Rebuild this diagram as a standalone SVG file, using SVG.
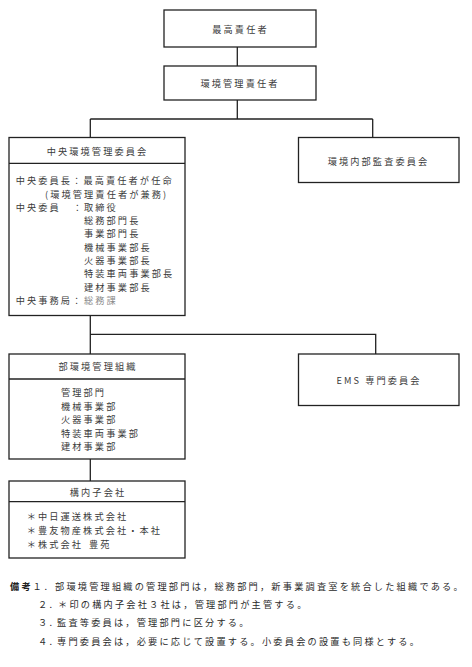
<svg xmlns="http://www.w3.org/2000/svg" width="472" height="667" viewBox="0 0 472 667">
<style>
.box{fill:#fff;stroke:#222;stroke-width:1.3}
.div{stroke:#222;stroke-width:1.3;fill:none}
.conn{stroke:#222;stroke-width:1.3;fill:none}
.t{font-family:"Noto Sans CJK JP","Noto Sans CJK SC",sans-serif;font-size:9.2px;letter-spacing:2.1px;fill:#3a3a3a;dominant-baseline:central}
.n{fill:#2a2a2a;letter-spacing:2.2px}
.c{text-anchor:middle}
.g{fill:#8a8a8a}
.b{font-weight:bold;fill:#222}
</style>
<rect width="472" height="667" fill="#fff"/>
<g id="connectors">
<path class="conn" d="M237.3 47V66M237.3 100V119M90.3 119H372.7M90.3 119V137.5M372.7 119V137.5M90.3 315.5V354M90.3 334.3H375.7V354M90.3 459V481"/>
</g>
<g id="n1">
<rect class="box" x="164" y="10" width="152" height="37"/>
<text class="t c" x="240.5" y="29.3">最高責任者</text>
</g>
<g id="n2">
<rect class="box" x="164" y="66" width="152" height="34"/>
<text class="t c" x="240" y="82.7">環境管理責任者</text>
</g>
<g id="n3">
<rect class="box" x="9" y="137.5" width="176" height="178"/>
<path class="div" d="M9 163.3H185"/>
<text class="t c" x="97.5" y="150.7">中央環境管理委員会</text>
<text class="t" x="15.7" y="180.3">中央委員長：最高責任者が任命</text>
<text class="t" x="45" y="193.5">(環境管理責任者が兼務)</text>
<text class="t" y="206.7"><tspan x="15.7">中央委員</tspan><tspan x="72.7">：</tspan><tspan x="84">取締役</tspan></text>
<text class="t" x="84" y="220">総務部門長</text>
<text class="t" x="84" y="233.3">事業部門長</text>
<text class="t" x="84" y="246.7">機械事業部長</text>
<text class="t" x="84" y="260">火器事業部長</text>
<text class="t" x="84" y="273.3">特装車両事業部長</text>
<text class="t" x="84" y="286.7">建材事業部長</text>
<text class="t" y="300"><tspan x="15.7">中央事務局：</tspan><tspan x="84" class="g">総務課</tspan></text>
</g>
<g id="n4">
<rect class="box" x="298.5" y="137.5" width="160.5" height="45"/>
<text class="t c" x="378.5" y="160.7">環境内部監査委員会</text>
</g>
<g id="n5">
<rect class="box" x="9" y="354" width="176" height="105"/>
<path class="div" d="M9 379H185"/>
<text class="t c" x="98" y="365.7">部環境管理組織</text>
<text class="t" x="61" y="391.7">管理部門</text>
<text class="t" x="61" y="405.5">機械事業部</text>
<text class="t" x="61" y="419.3">火器事業部</text>
<text class="t" x="61" y="432.7">特装車両事業部</text>
<text class="t" x="61" y="446">建材事業部</text>
</g>
<g id="n6">
<rect class="box" x="298.5" y="354" width="160.5" height="51.5"/>
<text class="t c" x="379" y="380">EMS 専門委員会</text>
</g>
<g id="n7">
<rect class="box" x="9" y="481" width="176" height="77"/>
<path class="div" d="M9 501.7H185"/>
<text class="t c" x="98" y="491.7">構内子会社</text>
<text class="t" x="26.7" y="516">＊中日運送株式会社</text>
<text class="t" x="26.7" y="530">＊豊友物産株式会社・本社</text>
<text class="t" y="544"><tspan x="26.7">＊株式会社</tspan><tspan x="89">豊苑</tspan></text>
</g>
<g id="notes">
<text class="t n" y="585.7"><tspan x="10" class="b">備考</tspan><tspan x="32.5">１</tspan><tspan x="44.5">.</tspan><tspan x="55">部環境管理組織の管理部門は，総務部門，新事業調査室を統合した組織である。</tspan></text>
<text class="t n" y="604"><tspan x="38">２</tspan><tspan x="49.5">.</tspan><tspan x="58">＊印の構内子会社３社は，管理部門が主管する。</tspan></text>
<text class="t n" y="622.3"><tspan x="38">３</tspan><tspan x="49.5">.</tspan><tspan x="57">監査等委員は，管理部門に区分する。</tspan></text>
<text class="t n" y="641"><tspan x="38">４</tspan><tspan x="49.5">.</tspan><tspan x="57">専門委員会は，必要に応じて設置する。小委員会の設置も同様とする。</tspan></text>
</g>
</svg>
